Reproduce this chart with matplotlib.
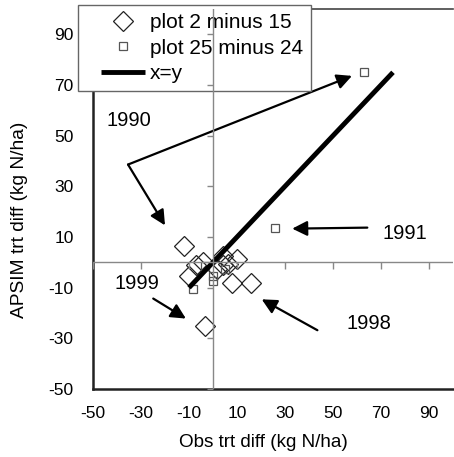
import matplotlib.pyplot as plt
import numpy as np
from matplotlib.lines import Line2D
from matplotlib.legend_handler import HandlerLine2D

plt.rcParams['font.family'] = ['Liberation Sans', 'DejaVu Sans']
plt.rcParams['axes.unicode_minus'] = False

# plot 2 minus 15 (diamonds)
obs_2_15 = [-12, -10, -7, -4, -3.5, 1.5, 4, 4.3, 6.4, 10, 8, 16]
sim_2_15 = [6.3, -5.2, -1, 0, -25, -2.6, -1, 2.6, -0.7, 1.3, -8, -8.3]

# plot 25 minus 24 (squares)
obs_25_24 = [-8.5, 0, 0, 5, -3.3, 26, 63]
sim_25_24 = [-10.5, -7.2, -5.2, -2.6, -1.3, 13.4, 75]

# x=y line
xy_line = [-10, 75]

ticks = np.arange(-50, 100, 20)

# annotations: label, label position, arrow tails and tips
notes = ['1990', '1991', '1999', '1998']
note_pos = [(-35, 56), (80, 11.5), (-31.5, -8.5), (65, -24)]
arrow_tail = [(-35.4, 38.6), (-35.4, 38.6), (64.3, 13.7), (-24.9, -14.3), (43.5, -26.8)]
arrow_tip = [(57.9, 73.6), (-20, 14.6), (33, 13.3), (-11.3, -22.2), (20.3, -14.6)]

fig = plt.figure(figsize=(4.54, 4.57), dpi=100)
ax = fig.add_axes([93 / 454, 1 - 389 / 457, 360 / 454, 380 / 457])

ax.set_xlim(-50, 100)
ax.set_ylim(-50, 100)

# zero lines with their own tick marks (drawn over the legend, like the original)
ax.axhline(0, color='#888888', lw=1, zorder=6)
ax.axvline(0, color='#888888', lw=1, zorder=6)
ax.plot(ticks, np.zeros_like(ticks), ls='none', marker=3, ms=5, mew=1,
        color='#888888', zorder=6)
ax.plot(np.zeros_like(ticks), ticks, ls='none', marker=0, ms=4, mew=1,
        color='#888888', zorder=6)

ax.plot(obs_2_15, sim_2_15, ls='none', marker='D', ms=10, mfc='none',
        mec='#222222', mew=0.9, label='plot 2 minus 15', zorder=4)
ax.plot(obs_25_24, sim_25_24, ls='none', marker='s', ms=6, mfc='none',
        mec='#555555', mew=0.9, label='plot 25 minus 24', zorder=4)
ax.plot(xy_line, xy_line, color='black', lw=3.5, label='x=y', zorder=5,
        solid_capstyle='butt')

for tail, tip in zip(arrow_tail, arrow_tip):
    ax.annotate('', xy=tip, xytext=tail,
                arrowprops=dict(arrowstyle='-|>,head_length=0.5,head_width=0.25',
                                mutation_scale=18, color='black', lw=1.6,
                                shrinkA=0, shrinkB=0))
for txt, pos in zip(notes, note_pos):
    ax.text(pos[0], pos[1], txt, fontsize=14.5, ha='center', va='center')

ax.set_xticks(ticks)
ax.set_yticks(ticks)
ax.tick_params(length=0, labelsize=12.5)
ax.tick_params(axis='x', pad=12)
ax.tick_params(axis='y', pad=14)

for side in ['left', 'bottom']:
    ax.spines[side].set_linewidth(1.8)
    ax.spines[side].set_color('#222222')
ax.spines['top'].set_linewidth(1.2)
ax.spines['top'].set_color('#444444')
ax.spines['right'].set_visible(False)

ax.set_xlabel('Obs trt diff (kg N/ha)', fontsize=13.6)
ax.set_ylabel('APSIM trt diff (kg N/ha)', fontsize=13.8)
ax.xaxis.set_label_coords(0.472, -0.118)
ax.yaxis.set_label_coords(-0.18, 0.445)

leg = ax.legend(loc='upper left', bbox_to_anchor=(-0.042, 1.0105),
                borderaxespad=0, fontsize=15, fancybox=False, framealpha=1,
                edgecolor='#666666', handlelength=2.8, handletextpad=0.26,
                labelspacing=0.3, borderpad=0.4,
                handler_map={Line2D: HandlerLine2D(xpad=0.7)})
leg.get_frame().set_linewidth(1)

fig.savefig('out.png', dpi=100)
